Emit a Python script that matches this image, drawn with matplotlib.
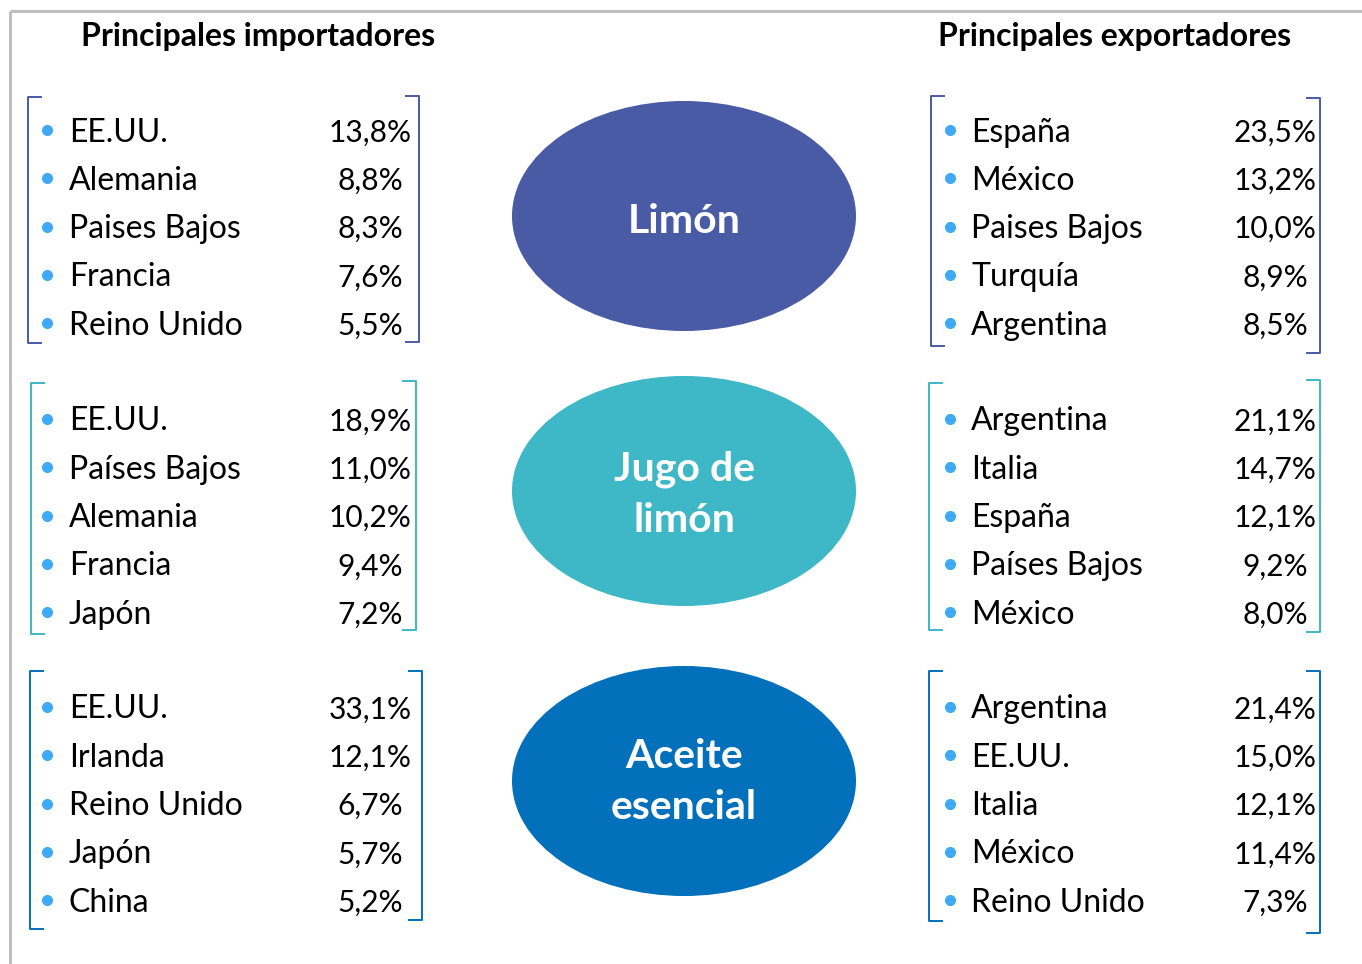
import matplotlib.pyplot as plt
from matplotlib.patches import Ellipse

plt.rcParams['font.family'] = ['Lato', 'DejaVu Sans']

W, H = 1362, 964

productos = [['Limón'], ['Jugo de', 'limón'], ['Aceite', 'esencial']]
colores = ['#4A5BA5', '#3EB7C6', '#0270BA']
bullet_color = '#3FA9F5'

imp_paises = [
    ['EE.UU.', 'Alemania', 'Paises Bajos', 'Francia', 'Reino Unido'],
    ['EE.UU.', 'Países Bajos', 'Alemania', 'Francia', 'Japón'],
    ['EE.UU.', 'Irlanda', 'Reino Unido', 'Japón', 'China'],
]
imp_pct = [
    ['13,8%', '8,8%', '8,3%', '7,6%', '5,5%'],
    ['18,9%', '11,0%', '10,2%', '9,4%', '7,2%'],
    ['33,1%', '12,1%', '6,7%', '5,7%', '5,2%'],
]
exp_paises = [
    ['España', 'México', 'Paises Bajos', 'Turquía', 'Argentina'],
    ['Argentina', 'Italia', 'España', 'Países Bajos', 'México'],
    ['Argentina', 'EE.UU.', 'Italia', 'México', 'Reino Unido'],
]
exp_pct = [
    ['23,5%', '13,2%', '10,0%', '8,9%', '8,5%'],
    ['21,1%', '14,7%', '12,1%', '9,2%', '8,0%'],
    ['21,4%', '15,0%', '12,1%', '11,4%', '7,3%'],
]

# layout (pixel coords)
row_y0 = [130, 419, 707]
row_dy = 48.3
ell_cy = [216, 491, 781]
# baselines of the product names inside the ellipses
ell_base = [[233], [480, 532], [768, 819]]
# brackets: (x_left, y_top, y_bot, x_right, y_top, y_bot)
br_imp = [(28, 97, 343, 419, 96, 342), (31, 383, 634, 416, 381, 630), (30, 671, 929, 422, 671, 920)]
br_exp = [(931, 96, 346, 1320, 98, 353), (929, 383, 630, 1320, 380, 632), (929, 671, 921, 1320, 671, 933)]

fig = plt.figure(figsize=(W / 100, H / 100), dpi=100)
ax = fig.add_axes([0, 0, 1, 1])
ax.set_xlim(0, W)
ax.set_ylim(H, 0)
ax.axis('off')

# frame
ax.plot([10, W], [11, 11], color='#BFBFBF', lw=2.2, solid_capstyle='butt')
ax.plot([10, 10], [11, H], color='#BFBFBF', lw=2.2, solid_capstyle='butt')

ax.text(258, 46, 'Principales importadores', ha='center', va='baseline',
        fontsize=23, fontweight='bold', color='black')
ax.text(1115, 46, 'Principales exportadores', ha='center', va='baseline',
        fontsize=23, fontweight='bold', color='black')


def bracket(b, color):
    xl, yt, yb, xr, yt2, yb2 = b
    t = 13
    ax.plot([xl + t, xl, xl, xl + t], [yt, yt, yb, yb], color=color, lw=1.4)
    ax.plot([xr - t, xr, xr, xr - t], [yt2, yt2, yb2, yb2], color=color, lw=1.4)


def lista(x_bullet, x_text, x_pct, y0, paises, pct):
    for i, (p, v) in enumerate(zip(paises, pct)):
        y = y0 + i * row_dy
        ax.plot(x_bullet, y, 'o', ms=8, color=bullet_color, mec='none')
        ax.text(x_text, y + 11.5, p, ha='left', va='baseline', fontsize=23, color='black')
        ax.text(x_pct, y + 11.5, v, ha='center', va='baseline', fontsize=21.5, color='black')


for k in range(3):
    c = colores[k]
    bracket(br_imp[k], c)
    bracket(br_exp[k], c)
    lista(47, 69, 370, row_y0[k], imp_paises[k], imp_pct[k])
    lista(950, 971, 1275, row_y0[k], exp_paises[k], exp_pct[k])
    ax.add_patch(Ellipse((684, ell_cy[k]), 344, 230, facecolor=c, edgecolor='none'))
    for linea, yb in zip(productos[k], ell_base[k]):
        ax.text(684, yb, linea, ha='center', va='baseline', fontsize=29.5,
                fontweight='bold', color='white')

fig.savefig('out.png', dpi=100)
